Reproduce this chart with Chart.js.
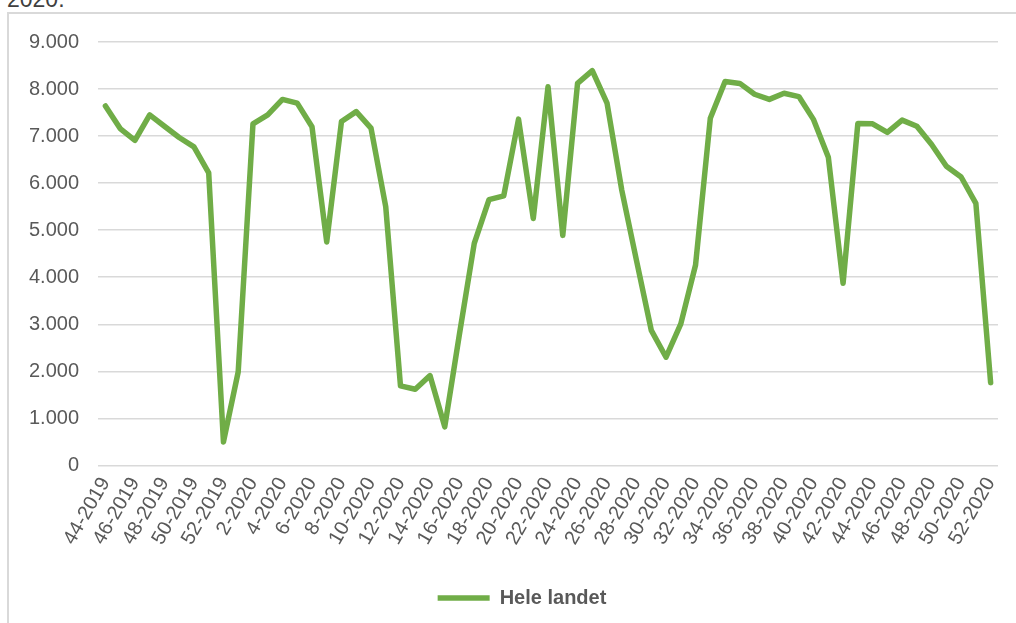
<!DOCTYPE html>
<html>
<head>
<meta charset="utf-8">
<script src="https://cdn.jsdelivr.net/npm/chart.js@4.4.1/dist/chart.umd.min.js"></script>
<style>
    html, body { margin: 0; padding: 0; background: #fff; }
    #wrap { position: relative; width: 1016px; height: 623px; overflow: hidden; }
    #caption { position: absolute; left: 7px; top: -12px; font: 23px "Liberation Sans", Arial, sans-serif; line-height: 23px; color: #404040; }
    #frame { position: absolute; left: 7px; top: 12px; width: 1020px; height: 640px; border-left: 2px solid #d9d9d9; border-top: 2px solid #d9d9d9; }
    #chart { position: absolute; left: 0; top: 0; }
</style>
</head>
<body>
<div id="wrap">
    <div id="caption">2020.</div>
    <div id="frame"></div>
    <canvas id="chart" width="1016" height="623"></canvas>
</div>
<script>
/** Data */
// weeks 44-2019 .. 52-2019, then 1-2020 .. 52-2020
const weeks2019 = [44, 45, 46, 47, 48, 49, 50, 51, 52];
const weeks2020 = [1, 2, 3, 4, 5, 6, 7, 8, 9, 10, 11, 12, 13, 14, 15, 16, 17, 18, 19, 20,
    21, 22, 23, 24, 25, 26, 27, 28, 29, 30, 31, 32, 33, 34, 35, 36, 37, 38, 39, 40,
    41, 42, 43, 44, 45, 46, 47, 48, 49, 50, 51, 52];
const weekLabels = weeks2019.map(w => w + '-2019').concat(weeks2020.map(w => w + '-2020'));

const seriesName = 'Hele landet';
const heleLandet = [
    7640, 7160, 6910, 7450, 7210, 6970, 6770, 6220, 500, 1990,
    7260, 7450, 7780, 7700, 7200, 4750, 7310, 7520, 7170, 5500,
    1690, 1620, 1910, 820, 2800, 4720, 5650, 5730, 7360, 5250,
    8050, 4890, 8120, 8390, 7700, 5850, 4350, 2870, 2300, 3010,
    4260, 7380, 8160, 8120, 7890, 7780, 7910, 7840, 7350, 6550,
    3870, 7270, 7260, 7080, 7340, 7210, 6820, 6360, 6130, 5570,
    1760
];

const yMax = 9000;
const yStep = 1000;

/** Style */
const GREEN = '#70ad47';
const TEXT = '#595959';
const GRID = '#d9d9d9';
const FONT = '"Liberation Sans", Arial, sans-serif';

// 9000 -> "9.000"
function formatThousands(v) {
    return String(v).replace(/\B(?=(\d{3})+(?!\d))/g, '.');
}

// legend sits a bit right of the canvas centre in the original
const legendShift = {
    id: 'legendShift',
    afterLayout: function (chart) {
        chart.legend.left += 18;
        chart.legend.right += 18;
    }
};

let ctx = document.getElementById('chart').getContext('2d');
new Chart(ctx, {
    type: 'line',
    data: {
        labels: weekLabels,
        datasets: [{
            label: seriesName,
            data: heleLandet,
            borderColor: GREEN,
            backgroundColor: GREEN,
            borderWidth: 5.5,
            borderJoinStyle: 'round',
            borderCapStyle: 'round',
            pointRadius: 0,
            tension: 0
        }]
    },
    options: {
        responsive: false,
        animation: false,
        layout: {
            padding: { left: 10, right: 18, top: 42, bottom: 5 }
        },
        scales: {
            x: {
                offset: true,
                grid: { display: false, drawTicks: false },
                border: { display: false },
                ticks: {
                    autoSkip: false,
                    maxRotation: 60,
                    minRotation: 60,
                    padding: 8,
                    color: TEXT,
                    font: { family: FONT, size: 20 },
                    callback: function (value, index) {
                        return index % 2 === 0 ? this.getLabelForValue(value) : '';
                    }
                },
                afterFit: function (scale) {
                    // let rotated labels hang into the y-axis area, leave room above legend
                    scale.paddingLeft = 0;
                    scale.paddingRight = 0;
                    scale.height += 11;
                }
            },
            y: {
                min: 0,
                max: yMax,
                grid: { color: GRID, lineWidth: 1.5, drawTicks: false },
                border: { display: false },
                ticks: {
                    stepSize: yStep,
                    padding: 19,
                    color: TEXT,
                    font: { family: FONT, size: 20 },
                    callback: function (value) { return formatThousands(value); }
                }
            }
        },
        plugins: {
            tooltip: { enabled: false },
            legend: {
                position: 'bottom',
                labels: {
                    usePointStyle: true,
                    pointStyle: 'line',
                    pointStyleWidth: 52,
                    boxHeight: 20,
                    padding: 20,
                    color: TEXT,
                    font: { family: FONT, size: 20, weight: 'bold' }
                }
            }
        }
    },
    plugins: [legendShift]
});
</script>
</body>
</html>
